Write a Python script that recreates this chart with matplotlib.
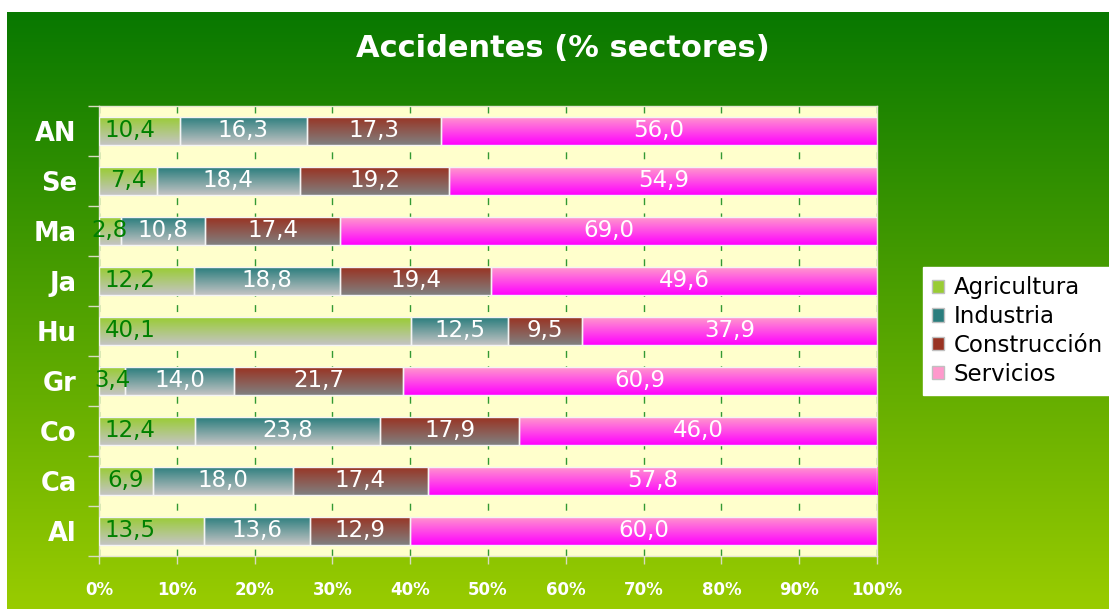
import numpy as np
import matplotlib
matplotlib.use("Agg")
import matplotlib.pyplot as plt
from matplotlib.colors import to_rgb
from matplotlib.patches import Patch


regions = ["AN", "Se", "Ma", "Ja", "Hu", "Gr", "Co", "Ca", "Al"]
series_names = ["Agricultura", "Industria", "Construcción", "Servicios"]
agricultura = [10.4, 7.4, 2.8, 12.2, 40.1, 3.4, 12.4, 6.9, 13.5]
industria = [16.3, 18.4, 10.8, 18.8, 12.5, 14.0, 23.8, 18.0, 13.6]
construccion = [17.3, 19.2, 17.4, 19.4, 9.5, 21.7, 17.9, 17.4, 12.9]
servicios = [56.0, 54.9, 69.0, 49.6, 37.9, 60.9, 46.0, 57.8, 60.0]
x_ticks = [0, 10, 20, 30, 40, 50, 60, 70, 80, 90, 100]

# (top colour, bottom colour) of each bar gradient
gradients = [("#99cc33", "#c4c4c4"), ("#2a7d7d", "#c4c4c4"),
             ("#993322", "#808080"), ("#ff99cc", "#ff00ff")]
label_colors = ["#008000", "white", "white", "white"]


def vgrad(top, bottom, n=64):
    t = np.linspace(0, 1, n)[:, None, None]
    return (1 - t) * np.array(to_rgb(top)) + t * np.array(to_rgb(bottom))


W, H = 1109, 609
fig = plt.figure(figsize=(W / 100, H / 100), dpi=100)
fig.patch.set_facecolor("white")

# green background gradient
bg = fig.add_axes([7 / W, 0, 1 - 7 / W, 1 - 12 / H])
bg.imshow(vgrad("#087800", "#99cc00", 256), aspect="auto", extent=(0, 1, 0, 1))
bg.axis("off")

ax = fig.add_axes([99 / W, 53 / H, 778 / W, 450 / H])
ax.set_facecolor("#ffffcc")

data = np.array([agricultura, industria, construccion, servicios])
pct = data / data.sum(axis=0) * 100
ypos = np.arange(len(regions))[::-1]
bar_h = 0.56

lefts = np.zeros(len(regions))
for k in range(len(series_names)):
    bars = ax.barh(ypos, pct[k], left=lefts, height=bar_h, color="none",
                   edgecolor="#f4f4f4", linewidth=1, zorder=4)
    grad = vgrad(*gradients[k])
    for i, p in enumerate(bars.patches):
        x0, y0 = p.get_x(), p.get_y()
        im = ax.imshow(grad, aspect="auto", zorder=3,
                       extent=(x0, x0 + p.get_width(), y0, y0 + p.get_height()))
        im.set_clip_path(p)
        label = f"{data[k][i]:.1f}".replace(".", ",")
        if k == 0:
            xc = min(x0 + p.get_width() / 2, 4.0)
        else:
            xc = x0 + p.get_width() / 2
        ax.text(xc, ypos[i], label, ha="center", va="center", fontsize=16.5,
                color=label_colors[k], zorder=6)
    lefts = lefts + pct[k]

ax.set_xlim(0, 100)
ax.set_ylim(-0.5, len(regions) - 0.5)
ax.set_xticks(x_ticks)
ax.set_xticklabels([f"{v}%" for v in x_ticks], fontsize=12, fontweight="bold",
                   color="white")
ax.set_yticks(ypos)
ax.set_yticklabels(regions, fontsize=18.5, fontweight="bold", color="white")
ax.set_yticks(np.arange(-0.5, len(regions), 1), minor=True)
ax.tick_params(axis="y", which="major", length=0, pad=16)
ax.tick_params(axis="y", which="minor", length=8, color="#d8dcc0", width=1)
ax.tick_params(axis="x", length=6, color="#d8dcc0", width=1, pad=12)

ax.set_axisbelow(True)
ax.grid(axis="x", color="#339933", linestyle=(0, (5, 6)), linewidth=1, zorder=1)
for s in ax.spines.values():
    s.set_color("#e4e4d0")
    s.set_linewidth(1)

fig.text(0.508, 0.921, "Accidentes (% sectores)", ha="center", va="center",
         fontsize=22, fontweight="bold", color="white")

handles = [Patch(facecolor=g[0], edgecolor="#c0c0c0") for g in gradients]
leg = fig.legend(handles, series_names, loc="center left",
                 bbox_to_anchor=(923 / W, 1 - 331 / H), fontsize=16.5,
                 frameon=True, fancybox=False, framealpha=1,
                 edgecolor="white", handlelength=0.5, handleheight=0.5,
                 handletextpad=0.45, labelspacing=0.25, borderpad=0.4,
                 borderaxespad=0)
leg.get_frame().set_facecolor("white")

fig.savefig("out.png", dpi=100)
plt.close(fig)
